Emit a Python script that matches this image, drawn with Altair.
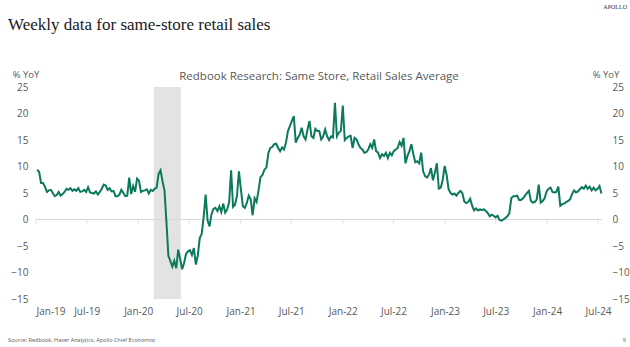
import altair as alt
import pandas as pd

# ---- data (weekly, % YoY) ----
values = [
    9.4, 9.0, 6.9, 6.9, 6.2, 5.2, 5.5, 5.6, 5.0, 4.4,
    4.6, 5.2, 4.5, 4.8, 5.2, 5.8, 5.6, 5.9, 5.4, 5.7,
    5.4, 5.9, 5.2, 5.3, 5.6, 5.2, 6.1, 5.1, 5.0, 4.9,
    5.3, 4.7, 5.2, 5.8, 6.6, 6.4, 5.6, 5.9, 5.3, 5.4,
    4.4, 4.4, 4.7, 5.6, 5.0, 4.4, 4.5, 7.9, 4.8, 6.3,
    5.2, 7.7, 7.3, 5.2, 5.4, 5.5, 5.7, 4.9, 5.6, 5.4,
    5.8, 6.0, 8.6, 9.3, 7.2, 5.5, -0.5, -6.9, -7.8, -8.9,
    -7.8, -9.2, -5.7, -7.4, -9.4, -8.2, -6.5, -6.0, -5.8, -6.7,
    -5.4, -8.5, -6.8, -3.5, -2.7, 0.5, 4.7, -0.2, -1.3, 1.0,
    2.0, 2.2, 1.6, 2.5, 1.4, 3.0, 1.3, 1.9, 3.3, 9.3,
    2.4, 2.8, 4.5, 9.1, 5.7, 2.5, 2.2, 3.1, 4.5, 3.8,
    0.8, 4.0, 3.3, 5.5, 8.0, 8.4, 9.4, 9.8, 12.5, 13.5,
    13.7, 14.2, 14.3, 13.5, 12.9, 13.6, 13.2, 14.5, 16.7, 17.6,
    18.6, 19.5, 14.5, 15.4, 16.0, 17.3, 15.7, 15.1, 17.0, 18.6,
    15.7, 15.4, 17.1, 16.7, 16.7, 15.1, 15.7, 17.0, 15.7, 15.0,
    15.7, 15.5, 22.0, 15.7, 16.4, 16.7, 21.5, 15.0, 15.4, 15.7,
    15.8, 13.5, 15.4, 15.1, 14.2, 13.5, 13.2, 12.6, 12.7, 13.2,
    14.2, 13.5, 15.1, 12.9, 12.6, 11.6, 12.3, 12.0, 12.6, 11.6,
    12.6, 12.1, 12.9, 13.2, 13.5, 14.6, 13.9, 15.4, 10.6, 12.0,
    12.9, 14.2, 12.3, 10.8, 11.0, 10.6, 12.6, 9.1, 8.2, 7.9,
    8.5, 9.7, 7.4, 8.8, 10.6, 5.8, 6.0, 7.5, 10.1, 8.4,
    5.7, 5.0, 4.7, 4.9, 4.5, 5.0, 5.4, 5.0, 3.4, 3.1,
    3.3, 3.9, 2.6, 1.7, 2.1, 1.7, 1.9, 1.8, 1.9, 1.6,
    1.2, 0.6, 0.9, 0.7, 0.4, 0.7, -0.1, -0.2, 0.0, 0.3,
    0.6, 1.2, 4.0, 4.4, 4.4, 4.5, 3.7, 3.7, 4.0, 4.5,
    5.0, 5.4, 3.5, 3.2, 3.3, 3.8, 6.6, 3.2, 3.5, 4.0,
    5.3, 5.8, 6.0, 5.2, 5.1, 5.2, 6.2, 2.6, 2.9, 3.0,
    3.3, 3.5, 3.8, 4.8, 5.5, 5.1, 5.3, 5.7, 6.1, 5.8,
    6.4, 5.8, 6.2, 5.5, 6.0, 5.5, 5.8, 6.3, 4.9,
]
first_week = "2019-01-05"
dates = pd.date_range(first_week, periods=len(values), freq="7D").strftime("%Y-%m-%d").tolist()

band_start = ["2020-02-26"]
band_end = ["2020-06-01"]

tick_dates = [(2019, 1), (2019, 7), (2020, 1), (2020, 7), (2021, 1), (2021, 7),
              (2022, 1), (2022, 7), (2023, 1), (2023, 7), (2024, 1), (2024, 7)]
y_ticks = [-15, -10, -5, 0, 5, 10, 15, 20, 25]

title_text = "Weekly data for same-store retail sales"
chart_title = "Redbook Research: Same Store, Retail Sales Average"
y_title = "% YoY"
source_text = "Source: Redbook, Haver Analytics, Apollo Chief Economist"
page_no = "9"
brand = "APOLLO"

# ---- styling ----
W, H = 566, 212
LINE = "#0B7A5C"
GRAY_TXT = "#595959"
FONT = "Open Sans"

df = pd.DataFrame({"date": dates, "value": values})
band_df = pd.DataFrame({"start": band_start, "end": band_end,
                        "lo": [min(y_ticks)], "hi": [max(y_ticks)]})
tick_df = pd.DataFrame({"date": [f"{y}-{m:02d}-01" for y, m in tick_dates],
                        "z": [0] * len(tick_dates)})

xdom = [alt.DateTime(year=2019, month=1, date=1, utc=True),
        alt.DateTime(year=2024, month=7, date=15, utc=True)]
xscale = alt.Scale(type="utc", domain=xdom)
yscale = alt.Scale(domain=[min(y_ticks), max(y_ticks)], nice=False, zero=False)

xaxis = alt.Axis(
    orient="bottom",
    values=[alt.DateTime(year=y, month=m, date=1, utc=True) for y, m in tick_dates],
    labelExpr="utcFormat(datum.value, '%b-%y')",
    grid=False, domain=False, ticks=False, title=None,
    labelPadding=7, labelFontSize=10, labelColor=GRAY_TXT, labelFont=FONT,
)
yaxis_left = alt.Axis(orient="left", values=y_ticks, grid=False, domain=False, ticks=False,
                      title=None, labelPadding=8, labelFontSize=10, labelColor=GRAY_TXT,
                      labelFont=FONT)
yaxis_right = alt.Axis(orient="right", values=y_ticks, grid=False, domain=False, ticks=False,
                       title=None, labelPadding=10, labelFontSize=10, labelColor=GRAY_TXT,
                       labelFont=FONT, labelAlign="left")

band = alt.Chart(band_df).mark_rect(color="#E3E3E3").encode(
    x=alt.X("start:T", scale=xscale, axis=xaxis),
    x2="end:T",
    y=alt.Y("lo:Q", scale=yscale, axis=yaxis_left),
    y2="hi:Q",
)

zero = alt.Chart(pd.DataFrame({"y": [0]})).mark_rule(color="#D9D9D9", strokeWidth=1.2).encode(
    y=alt.Y("y:Q", scale=yscale, axis=None)
)

ticks = alt.Chart(tick_df).mark_tick(orient="vertical", size=4, thickness=1, yOffset=2,
                                     color="#D0D0D0").encode(
    x=alt.X("date:T", scale=xscale, axis=xaxis),
    y=alt.Y("z:Q", scale=yscale, axis=None),
)

line = alt.Chart(df).mark_line(color=LINE, strokeWidth=2).encode(
    x=alt.X("date:T", scale=xscale, axis=xaxis),
    y=alt.Y("value:Q", scale=yscale, axis=yaxis_right),
)


def label(text, x, y, size, color=GRAY_TXT, font=FONT, align="center", baseline="middle",
          weight="normal"):
    return alt.Chart(pd.DataFrame({"t": [text]})).mark_text(
        font=font, fontSize=size, color=color, align=align, baseline=baseline,
        fontWeight=weight,
    ).encode(text="t:N", x=alt.value(x), y=alt.value(y))


texts = [
    label(title_text, -28, -57, 17, color="#1A1A1A", font="Liberation Serif",
          align="left", baseline="alphabetic"),
    label(brand, 591, -78, 6, color="#333333", font="Liberation Serif",
          align="right", baseline="alphabetic"),
    label(chart_title, 283, -10, 11.5),
    label(y_title, -10, -12.5, 9.5),
    label(y_title, 570, -12.5, 9.5),
    label(source_text, -28, 253, 5.5, align="left"),
    label(page_no, 590, 253, 5.5, align="right"),
]

chart = alt.layer(band, zero, ticks, line, *texts).resolve_axis(y="independent").properties(
    width=W, height=H,
    autosize=alt.AutoSizeParams(type="none"),
    padding={"left": 36, "top": 87, "right": 28, "bottom": 48},
    background="white",
).configure_view(stroke=None)

chart.save("out.html", embed_options={"renderer": "svg", "actions": False})
